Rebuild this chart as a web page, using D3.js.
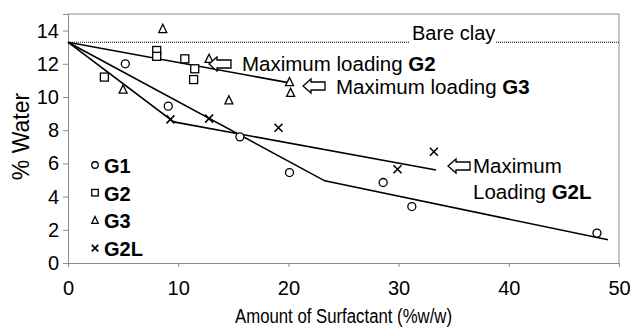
<!DOCTYPE html>
<html>
<head>
<meta charset="utf-8">
<script src="https://cdn.jsdelivr.net/npm/d3@7"></script>
<style>
  body { margin: 0; background: #fff; }
  text { font-family: "Liberation Sans", Arial, sans-serif; fill: #000; }
</style>
</head>
<body>
<div id="chart"></div>
<script>
// data
const bareClay = 13.3;

const g1X = [5.2, 9.1, 15.6, 20.1, 28.6, 31.2, 48.0];
const g1Y = [12.0, 9.45, 7.6, 5.45, 4.85, 3.4, 1.8];

const g2X = [3.3, 8.05, 8.05, 10.6, 11.5, 11.4];
const g2Y = [11.2, 12.8, 12.45, 12.3, 11.7, 11.05];

const g3X = [8.6, 5.0, 12.8, 14.6, 20.1, 20.2];
const g3Y = [14.1, 10.45, 12.3, 9.8, 10.9, 10.25];

const g2lX = [9.3, 12.8, 19.1, 29.9, 33.2];
const g2lY = [8.65, 8.7, 8.15, 5.65, 6.7];

// trend lines
const g1LineX = [0, 23.3, 49.0];
const g1LineY = [13.3, 4.95, 1.4];
const g2LineX = [0, 20.1];
const g2LineY = [13.3, 10.85];
const g2lLineX = [0, 9.6, 33.4];
const g2lLineY = [13.3, 8.5, 5.6];

const xTicks = [0, 10, 20, 30, 40, 50];
const yTicks = [0, 2, 4, 6, 8, 10, 12, 14];

const seriesNames = ['G1', 'G2', 'G3', 'G2L'];
const seriesShapes = ['circle', 'square', 'triangle', 'cross'];

const W = 635, H = 329;
const m = { left: 68, right: 16, top: 14, bottom: 66 };
const pw = W - m.left - m.right, ph = H - m.top - m.bottom;

const svg = d3.select('#chart').append('svg')
  .attr('width', W)
  .attr('height', H);

const x = d3.scaleLinear().domain([0, 50]).range([m.left, m.left + pw]);
const y = d3.scaleLinear().domain([0, 15]).range([m.top + ph, m.top]);

const axisGrey = '#8c8c8c';
const fontFam = '"Liberation Sans", Arial, sans-serif';

// frame (top and right)
svg.append('path')
  .attr('d', `M${x(0)},${y(15)}H${x(50)}V${y(0)}`)
  .attr('fill', 'none')
  .attr('stroke', axisGrey)
  .attr('stroke-width', 1);

// x axis
const xAxis = svg.append('g')
  .attr('transform', `translate(0,${y(0)})`)
  .call(d3.axisBottom(x).tickValues(xTicks).tickSize(4).tickPadding(14));
xAxis.selectAll('line, path').attr('stroke', axisGrey);
xAxis.selectAll('text').style('font-size', '20px').style('font-family', fontFam);

// y axis
const yAxis = svg.append('g')
  .attr('transform', `translate(${x(0)},0)`)
  .call(d3.axisLeft(y).tickValues(yTicks).tickSize(5).tickPadding(4));
yAxis.selectAll('line, path').attr('stroke', axisGrey);
yAxis.selectAll('text').style('font-size', '20px').style('font-family', fontFam);

// axis titles
svg.append('text')
  .attr('x', x(25))
  .attr('y', 323)
  .attr('text-anchor', 'middle')
  .attr('textLength', 217)
  .attr('lengthAdjust', 'spacingAndGlyphs')
  .style('font-size', '20px')
  .text('Amount of Surfactant (%w/w)');

svg.append('text')
  .attr('transform', `translate(29,${(y(0) + y(15)) / 2 - 2}) rotate(-90)`)
  .attr('text-anchor', 'middle')
  .style('font-size', '23px')
  .text('% Water');

// bare clay reference
svg.append('line')
  .attr('x1', x(0)).attr('x2', x(50))
  .attr('y1', y(bareClay)).attr('y2', y(bareClay))
  .attr('stroke', '#000')
  .attr('stroke-width', 1)
  .attr('stroke-dasharray', '1,1');

svg.append('rect')
  .attr('x', 410).attr('y', y(bareClay) - 16)
  .attr('width', 86).attr('height', 21)
  .attr('fill', '#fff');
svg.append('text')
  .attr('x', 412)
  .attr('y', y(bareClay) - 2)
  .style('font-size', '20px')
  .text('Bare clay');

// trend lines
const line = d3.line().x(d => x(d[0])).y(d => y(d[1]));
[[g1LineX, g1LineY], [g2LineX, g2LineY], [g2lLineX, g2lLineY]].forEach(([xs, ys]) => {
  svg.append('path')
    .datum(xs.map((v, i) => [v, ys[i]]))
    .attr('d', line)
    .attr('fill', 'none')
    .attr('stroke', '#000')
    .attr('stroke-width', 1.6);
});

// marker drawing
function marker(g, shape, cx, cy, s) {
  if (shape === 'circle') {
    g.append('circle').attr('cx', cx).attr('cy', cy).attr('r', s * 0.5)
      .attr('fill', '#fff').attr('stroke', '#000').attr('stroke-width', 1.3);
  } else if (shape === 'square') {
    g.append('rect').attr('x', cx - s / 2).attr('y', cy - s / 2)
      .attr('width', s).attr('height', s)
      .attr('fill', '#fff').attr('stroke', '#000').attr('stroke-width', 1.3);
  } else if (shape === 'triangle') {
    const h = s * 0.9;
    g.append('path')
      .attr('d', `M${cx},${cy - h / 2 - 1}L${cx + s / 2},${cy + h / 2}L${cx - s / 2},${cy + h / 2}Z`)
      .attr('fill', '#fff').attr('stroke', '#000').attr('stroke-width', 1.3);
  } else {
    const r = s / 2;
    g.append('path')
      .attr('d', `M${cx - r},${cy - r}L${cx + r},${cy + r}M${cx - r},${cy + r}L${cx + r},${cy - r}`)
      .attr('fill', 'none').attr('stroke', '#000').attr('stroke-width', 1.6);
  }
}

const pts = svg.append('g').attr('class', 'points');
[[g1X, g1Y], [g2X, g2Y], [g3X, g3Y], [g2lX, g2lY]].forEach(([xs, ys], k) => {
  xs.forEach((v, i) => marker(pts, seriesShapes[k], x(v), y(ys[i]), 8));
});

// annotations: open block arrows pointing left + labels
function arrow(ax, ay) {
  // ax = tip x, ay = center y
  svg.append('path')
    .attr('d', `M${ax},${ay}L${ax + 8},${ay - 7}V${ay - 4}H${ax + 22}V${ay + 4}H${ax + 8}V${ay + 7}Z`)
    .attr('fill', '#fff')
    .attr('stroke', '#000')
    .attr('stroke-width', 1.3);
}

function label(tx, ty, normal, bold) {
  const t = svg.append('text').attr('x', tx).attr('y', ty).style('font-size', '20.5px');
  t.append('tspan').text(normal);
  if (bold) t.append('tspan').style('font-weight', 'bold').text(bold);
}

arrow(209, 64);
label(242, 71, 'Maximum loading ', 'G2');
arrow(303, 86);
label(336, 94, 'Maximum loading ', 'G3');
arrow(448, 166);
label(473, 173, 'Maximum', null);
label(473, 199, 'Loading ', 'G2L');

// legend
const legend = svg.append('g').attr('class', 'legend');
seriesNames.forEach((name, i) => {
  const ly = 165 + i * 27.7;
  marker(legend, seriesShapes[i], 95, ly, 6.5);
  legend.append('text')
    .attr('x', 104)
    .attr('y', ly + 8)
    .style('font-size', '20px')
    .style('font-weight', 'bold')
    .text(name);
});
</script>
</body>
</html>
